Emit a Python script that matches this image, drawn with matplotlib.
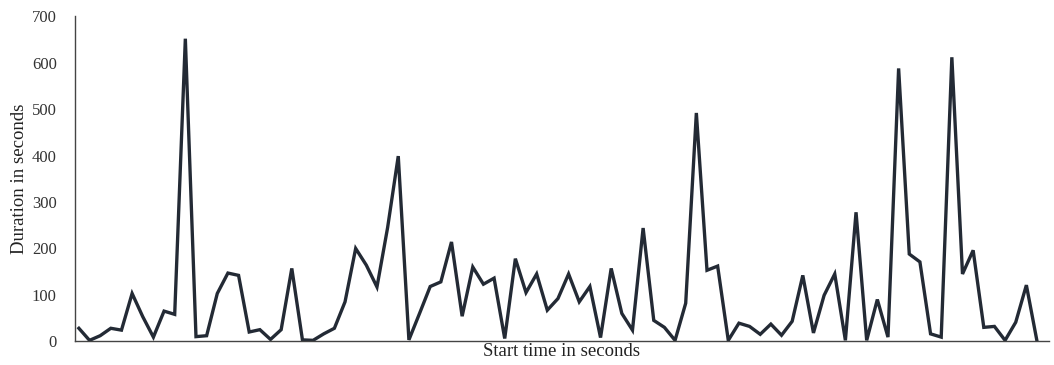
import numpy as np
import matplotlib.pyplot as plt

plt.rcParams['font.family'] = ['Liberation Serif', 'DejaVu Serif']

# durations (s) of consecutive sessions
durations = [
    28, 2, 12, 28, 24, 103, 53, 9, 65, 58,
    652, 10, 12, 103, 147, 142, 20, 25, 4, 25,
    157, 3, 2, 16, 28, 85, 200, 164, 117, 245,
    399, 3, 60, 118, 128, 214, 54, 160, 123, 136,
    6, 178, 105, 145, 67, 92, 145, 85, 118, 8,
    157, 60, 24, 244, 45, 30, 2, 82, 492, 153,
    162, 2, 39, 32, 15, 37, 13, 43, 142, 18,
    99, 145, 2, 278, 2, 90, 9, 588, 188, 171,
    16, 9, 612, 145, 196, 30, 32, 2, 41, 121,
    0,
]
yticks = [0, 100, 200, 300, 400, 500, 600, 700]

fig, ax = plt.subplots(figsize=(10.54, 3.65), dpi=100)
fig.subplots_adjust(left=0.071, right=0.995, top=0.955, bottom=0.065)

x = np.arange(len(durations))
ax.plot(x, durations, color='#232a35', linewidth=2.4, solid_joinstyle='miter')

ax.set_xlim(-0.38, 91.1)
ax.set_ylim(0, 700)
ax.set_yticks(yticks)
ax.set_xticks([])
ax.tick_params(axis='y', length=0, pad=13, labelsize=12, colors='#333333')

for s in ['top', 'right']:
    ax.spines[s].set_visible(False)
ax.spines['left'].set_color('#444444')
ax.spines['bottom'].set_color('#444444')
ax.spines['left'].set_linewidth(1.0)
ax.spines['bottom'].set_linewidth(1.0)

ax.set_xlabel('Start time in seconds', fontsize=13.5, labelpad=1, color='#222222')
ax.set_ylabel('Duration in seconds', fontsize=13.5, labelpad=3, color='#222222')

plt.savefig('out.png', dpi=100)
